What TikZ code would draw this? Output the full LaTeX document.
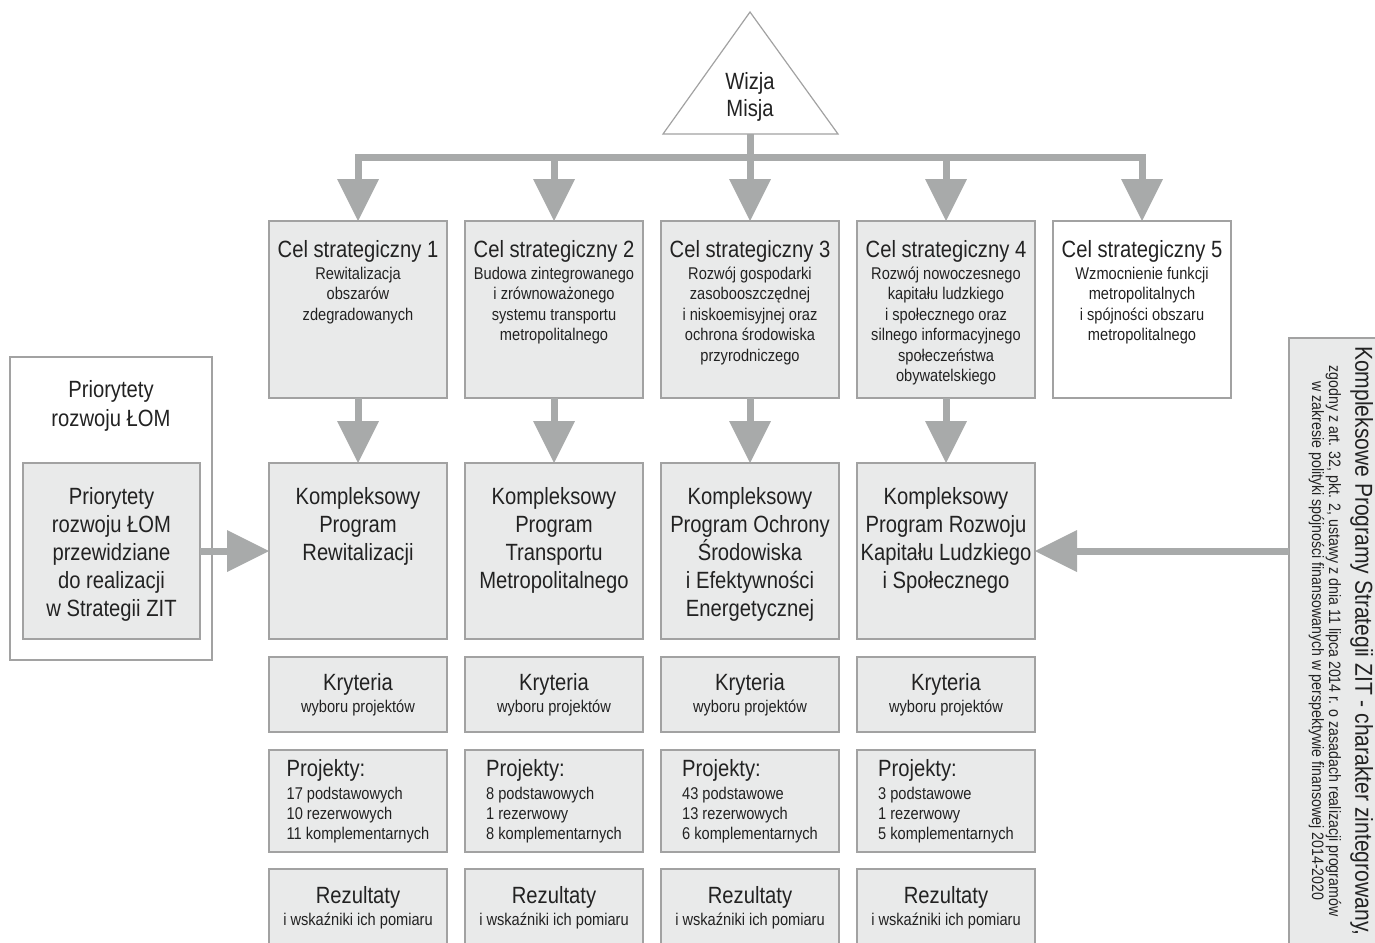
\documentclass[tikz,border=0pt]{standalone}
\usepackage{fontspec}
\setmainfont{Liberation Sans}[FakeStretch=0.86]
\usepackage{tikz}
\usetikzlibrary{
    arrows.meta,
    positioning
}

\definecolor{kastenfill}{HTML}{E9EAEA}
\definecolor{kastenrand}{HTML}{A2A2A2}
\definecolor{pfeilgrau}{HTML}{A8AAAA}
\definecolor{schrift}{HTML}{222222}

\newcommand{\gross}{\fontsize{11.75pt}{14pt}\selectfont}
\newcommand{\klein}{\fontsize{8.5pt}{10.25pt}\selectfont}
\newcommand{\winzig}{\fontsize{8.25pt}{8.5pt}\selectfont}

\tikzstyle{kasten} = [
    draw=kastenrand,
    line width=0.6pt,
    fill=kastenfill,
    minimum width=89pt,
    inner sep=0pt,
    outer sep=0pt,
    text=schrift
]
\tikzstyle{pfeil} = [
    draw=pfeilgrau,
    line width=3.5pt,
    -{Triangle[length=21pt, width=21pt, line width=0pt]}
]
\tikzstyle{balken} = [
    draw=pfeilgrau,
    line width=3.5pt,
    line cap=rect
]
\tikzstyle{beschriftung} = [
    anchor=north,
    align=center,
    inner sep=0pt,
    text=schrift
]

\begin{document}
\begin{tikzpicture}[x=0.5pt, y=-0.5pt]
\useasboundingbox (0,0) rectangle (1375,942);

% Spaltenabstand
\def\spalte{196}

% Stiel unter dem Dreieck
\coordinate (basis) at (750,134);
\coordinate (verteiler) at (750,157);
\draw[balken] (basis) -- (verteiler);

% Dreieck Wizja / Misja
\draw[draw=kastenrand, line width=0.6pt, fill=white]
    (750,12) -- (838,134) -- (663,134) -- cycle;
\node[beschriftung, font=\gross] (wizja) at (750,72) {Wizja\\[-0.5pt]Misja};

% Cele strategiczne
\foreach \i/\farbe/\opis in {
    1/kastenfill/{Rewitalizacja\\obszarów\\zdegradowanych},
    2/kastenfill/{Budowa zintegrowanego\\i zrównoważonego\\systemu transportu\\metropolitalnego},
    3/kastenfill/{Rozwój gospodarki\\zasobooszczędnej\\i niskoemisyjnej oraz\\ochrona środowiska\\przyrodniczego},
    4/kastenfill/{Rozwój nowoczesnego\\kapitału ludzkiego\\i społecznego oraz\\silnego informacyjnego\\społeczeństwa\\obywatelskiego},
    5/white/{Wzmocnienie funkcji\\metropolitalnych\\i spójności obszaru\\metropolitalnego}} {
    \node[kasten, fill=\farbe, minimum height=88.5pt, anchor=north]
        (cel\i) at ({358+(\i-1)*\spalte}, 221) {};
    \node[beschriftung, font=\klein] (celtext\i) at ([yshift=-9.5pt]cel\i.north)
        {{\gross Cel strategiczny \i}\\[0.75pt]\opis};
}

% Kompleksowe programy
\foreach \i/\opis in {
    1/{Kompleksowy\\Program\\Rewitalizacji},
    2/{Kompleksowy\\Program\\Transportu\\Metropolitalnego},
    3/{Kompleksowy\\Program Ochrony\\Środowiska\\i Efektywności\\Energetycznej},
    4/{Kompleksowy\\Program Rozwoju\\Kapitału Ludzkiego\\i Społecznego}} {
    \node[kasten, minimum height=88pt, anchor=north]
        (kp\i) at ({358+(\i-1)*\spalte}, 463) {};
    \node[beschriftung, font=\gross] (kptext\i) at ([yshift=-11.8pt]kp\i.north) {\opis};
}

% Kryteria, Projekty, Rezultaty
\foreach \i/\a/\b/\c in {
    1/17 podstawowych/10 rezerwowych/11 komplementarnych,
    2/8 podstawowych/1 rezerwowy/8 komplementarnych,
    3/43 podstawowe/13 rezerwowych/6 komplementarnych,
    4/3 podstawowe/1 rezerwowy/5 komplementarnych} {
    \node[kasten, minimum height=37.5pt, anchor=north, align=center, font=\klein]
        (kryt\i) at ({358+(\i-1)*\spalte}, 657)
        {{\gross Kryteria}\\[1pt]wyboru projektów};
    \node[kasten, minimum height=51pt, anchor=north, align=left, font=\klein]
        (proj\i) at ({358+(\i-1)*\spalte}, 750)
        {{\gross Projekty:}\\[1.25pt]\a\\[-0.25pt]\b\\[-0.25pt]\c};
    \node[kasten, minimum height=38.5pt, anchor=north, align=center, font=\klein]
        (rez\i) at ({358+(\i-1)*\spalte}, 869)
        {{\gross Rezultaty}\\[0.5pt]i wskaźniki ich pomiaru};
}

% Priorytety rozwoju ŁOM
\node[kasten, fill=white, minimum width=101pt, minimum height=151.5pt, anchor=north west]
    (lom) at (10,357) {};
\node[beschriftung, font=\gross] (lomtext) at ([yshift=-11.5pt]lom.north)
    {Priorytety\\[0.5pt]rozwoju ŁOM};
\node[kasten, minimum width=88.5pt, minimum height=88pt, anchor=north west]
    (prio) at (23,463) {};
\node[beschriftung, font=\gross] (priotext) at ([yshift=-11.8pt]prio.north)
    {Priorytety\\rozwoju ŁOM\\przewidziane\\do realizacji\\w Strategii ZIT};

% Kompleksowe Programy Strategii ZIT
\node[kasten, minimum width=60pt, minimum height=320pt, anchor=north west]
    (zit) at (1289,338) {};
\node[rotate=-90, align=center, inner sep=0pt, font=\winzig, text=schrift]
    (zittext) at (1341,641)
    {{\fontsize{12.25pt}{14pt}\selectfont Kompleksowe Programy Strategii ZIT - charakter zintegrowany,}\\[3.5pt]
     zgodny z art. 32, pkt. 2, ustawy z dnia 11 lipca 2014 r. o zasadach realizacji programów\\
     w zakresie polityki spójności finansowanych w perspektywie finansowej 2014-2020};

% Pfeile
\draw[balken] (cel1.north |- verteiler) -- (cel5.north |- verteiler);
\foreach \i in {1,...,5} {
    \draw[pfeil] (cel\i.north |- verteiler) -- (cel\i.north);
}
\foreach \i in {1,...,4} {
    \draw[pfeil] (cel\i.south) -- (kp\i.north);
}
\draw[pfeil] (prio.east) -- (kp1.west);
\draw[pfeil] (zit.west |- kp4.east) -- (kp4.east);
\end{tikzpicture}
\end{document}
